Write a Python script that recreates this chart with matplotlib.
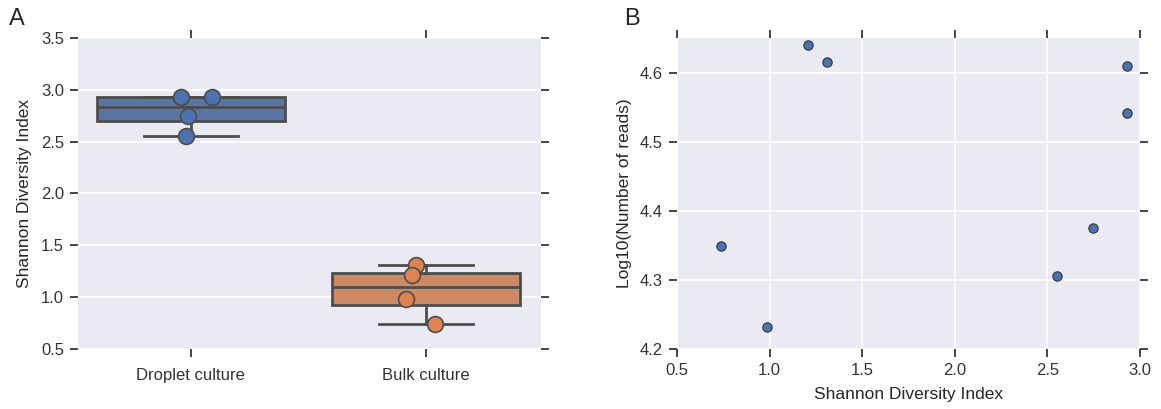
import numpy as np
import matplotlib
matplotlib.use("Agg")
import matplotlib.pyplot as plt

plt.rcParams['font.family'] = ['Liberation Sans', 'DejaVu Sans']
plt.rcParams['text.color'] = '#262626'
plt.rcParams['axes.labelcolor'] = '#262626'
plt.rcParams['xtick.color'] = '#262626'
plt.rcParams['ytick.color'] = '#262626'

# panel A data
groups = ["Droplet culture", "Bulk culture"]
droplet = [2.93, 2.93, 2.745, 2.55]
bulk = [1.31, 1.21, 0.985, 0.74]
droplet_jitter = [-0.04, 0.09, -0.01, -0.02]
bulk_jitter = [-0.04, -0.06, -0.085, 0.04]

# panel B data
shannon = [0.74, 0.985, 1.21, 1.31, 2.55, 2.745, 2.93, 2.93]
log_reads = [4.349, 4.232, 4.640, 4.615, 4.305, 4.375, 4.609, 4.541]

box_colors = ["#5975A4", "#CC8963"]
point_colors = ["#4C72B0", "#DD8452"]
edge = "#4d4d4d"
bg = "#EAEAF2"

fig = plt.figure(figsize=(11.61, 4.09), dpi=100)
ax1 = fig.add_axes([0.067, 0.147, 0.399, 0.760])
ax2 = fig.add_axes([0.583, 0.147, 0.399, 0.760])

for ax in (ax1, ax2):
    ax.set_facecolor(bg)
    for s in ax.spines.values():
        s.set_visible(False)
    ax.set_axisbelow(True)
    ax.tick_params(direction='out', length=6, width=1.2, labelsize=12,
                   top=True, right=True, color='#262626', pad=4,
                   labelcolor='#333333')
    ax.tick_params(axis='x', labeltop=False)
    ax.tick_params(axis='y', labelright=False)

# panel A
bp = ax1.boxplot([droplet, bulk], positions=[0, 1], widths=0.8, patch_artist=True,
                 whis=1.5, showfliers=False, medianprops=dict(color=edge, lw=2),
                 whiskerprops=dict(color=edge, lw=2), capprops=dict(color=edge, lw=2),
                 boxprops=dict(edgecolor=edge, lw=2))
for patch, c in zip(bp['boxes'], box_colors):
    patch.set_facecolor(c)

for i, (vals, jit) in enumerate([(droplet, droplet_jitter), (bulk, bulk_jitter)]):
    ax1.scatter(np.array(jit) + i, vals, s=130, color=point_colors[i],
                edgecolor=edge, linewidth=1.2, zorder=5)

ax1.set_xlim(-0.48, 1.49)
ax1.set_ylim(0.5, 3.5)
ax1.set_xticks([0, 1])
ax1.set_xticklabels(groups)
ax1.set_yticks(np.arange(0.5, 3.51, 0.5))
ax1.grid(axis='y', color='white', lw=1.2)
ax1.grid(axis='x', visible=False)
ax1.tick_params(axis='x', pad=8)
ax1.set_ylabel("Shannon Diversity Index", fontsize=12.5, labelpad=6)

# panel B
ax2.scatter(shannon, log_reads, s=45, color=point_colors[0], edgecolor='#333333',
            linewidth=0.8, zorder=5)
ax2.set_xlim(0.5, 3.0)
ax2.set_ylim(4.2, 4.65)
ax2.set_xticks(np.arange(0.5, 3.01, 0.5))
ax2.set_yticks([4.2, 4.3, 4.4, 4.5, 4.6])
ax2.grid(color='white', lw=1.2)
ax2.set_xlabel("Shannon Diversity Index", fontsize=12.5, labelpad=7)
ax2.set_ylabel("Log10(Number of reads)", fontsize=12.5, labelpad=6)

fig.text(0.008, 0.94, "A", fontsize=17)
fig.text(0.538, 0.94, "B", fontsize=17)

fig.savefig("out.png", dpi=100)
